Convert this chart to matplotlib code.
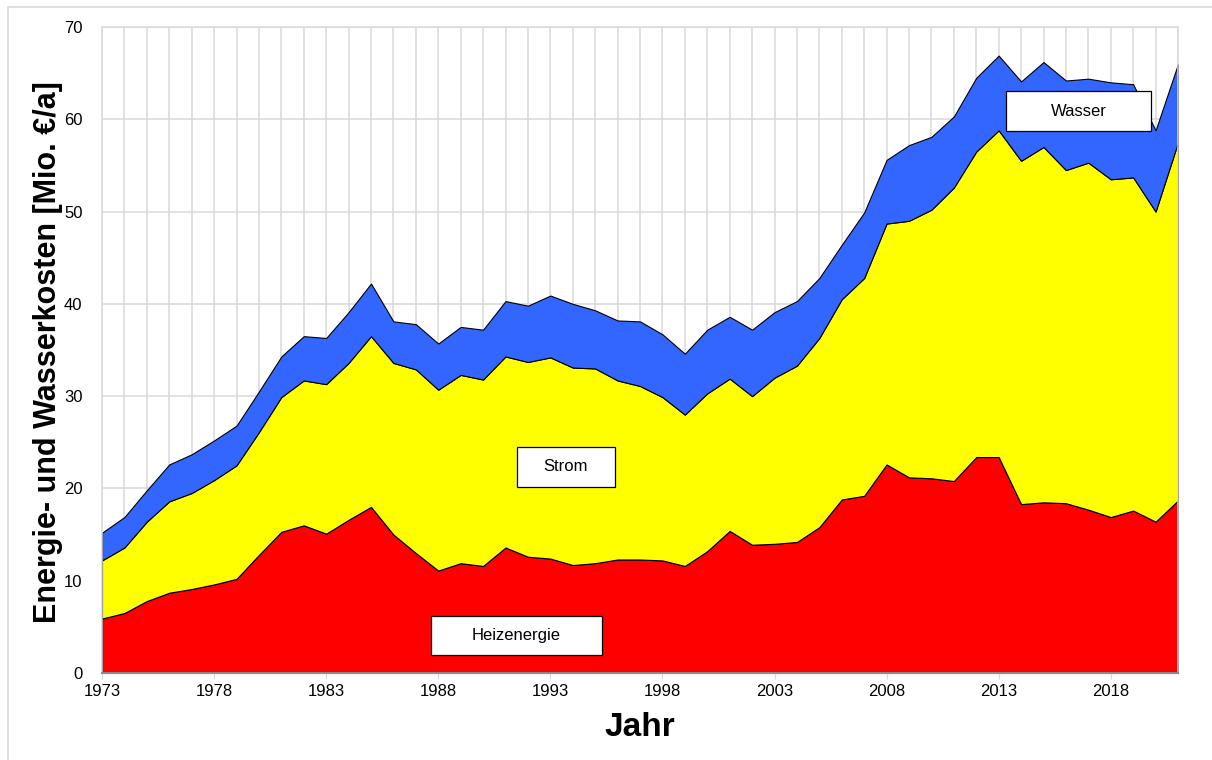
import matplotlib
matplotlib.use('Agg')
import matplotlib.pyplot as plt
import matplotlib.patches as patches
import matplotlib.ticker as ticker

plt.rcParams['font.family'] = ['Liberation Sans', 'DejaVu Sans']

# Daten (Mio. EUR pro Jahr)
jahre = list(range(1973, 2022))
heizenergie = [5.9, 6.5, 7.8, 8.7, 9.1, 9.6, 10.2, 12.8, 15.3, 16.0,
               15.1, 16.6, 18.0, 15.0, 13.0, 11.1, 11.9, 11.6, 13.6, 12.6,
               12.4, 11.7, 11.9, 12.3, 12.3, 12.2, 11.6, 13.2, 15.4, 13.9,
               14.0, 14.2, 15.8, 18.8, 19.2, 22.6, 21.2, 21.1, 20.8, 23.4,
               23.4, 18.3, 18.5, 18.4, 17.7, 16.9, 17.6, 16.4, 18.7]
strom = [6.3, 7.1, 8.6, 9.9, 10.4, 11.3, 12.3, 13.3, 14.6, 15.7,
         16.2, 17.0, 18.5, 18.6, 19.9, 19.6, 20.4, 20.2, 20.7, 21.1,
         21.8, 21.4, 21.1, 19.4, 18.8, 17.7, 16.4, 17.1, 16.5, 16.1,
         18.0, 19.1, 20.5, 21.7, 23.6, 26.1, 27.8, 29.1, 31.8, 33.1,
         35.4, 37.2, 38.5, 36.1, 37.6, 36.6, 36.1, 33.6, 38.8]
wasser = [3.0, 3.3, 3.4, 4.0, 4.2, 4.3, 4.3, 4.4, 4.4, 4.8,
          5.0, 5.5, 5.7, 4.5, 4.9, 5.0, 5.2, 5.4, 6.0, 6.1,
          6.7, 6.9, 6.3, 6.5, 7.0, 6.8, 6.6, 6.9, 6.7, 7.2,
          7.1, 7.0, 6.5, 5.9, 7.1, 6.9, 8.2, 7.9, 7.7, 8.0,
          8.1, 8.6, 9.2, 9.7, 9.1, 10.5, 10.1, 8.8, 8.5]

farben = ['#ff0000', '#ffff00', '#3366ff']
W, H = 1212, 760

fig = plt.figure(figsize=(W / 100, H / 100), dpi=100)
# heller Rahmen um die Grafik (nur links/oben sichtbar)
fig.add_artist(patches.Rectangle((8 / W, -0.1), 1.2, 1.1 - 7 / H + 0.0,
                                 transform=fig.transFigure, fill=False,
                                 edgecolor='#d9d9d9', linewidth=1.2))

ax = fig.add_axes([102 / W, 87 / H, 1076 / W, 646 / H])
ax.stackplot(jahre, heizenergie, strom, wasser, colors=farben,
             edgecolor='black', linewidth=0.8, zorder=2)

ax.set_xlim(1973, 2021)
ax.set_ylim(0, 70)
ax.xaxis.set_major_locator(ticker.FixedLocator(range(1973, 2021, 5)))
ax.xaxis.set_minor_locator(ticker.MultipleLocator(1))
ax.yaxis.set_major_locator(ticker.MultipleLocator(10))
ax.grid(which='both', axis='x', color='#d9d9d9', linewidth=1.1, zorder=0)
ax.grid(which='major', axis='y', color='#d9d9d9', linewidth=1.1, zorder=0)
ax.set_axisbelow(True)

ax.tick_params(axis='x', which='major', length=4, color='#d9d9d9',
               labelsize=12, pad=4)
ax.tick_params(axis='x', which='minor', length=0)
ax.tick_params(axis='y', length=0, labelsize=12, pad=14)

for s in ['top', 'right', 'left']:
    ax.spines[s].set_color('#d9d9d9')
    ax.spines[s].set_linewidth(1.1)
ax.spines['bottom'].set_color('#888888')
ax.spines['bottom'].set_linewidth(1.5)
ax.spines['bottom'].set_zorder(3)

fig.text(48 / W, 1 - 352 / H, 'Energie- und Wasserkosten [Mio. €/a]',
         rotation=90, ha='center', va='center', fontsize=22, weight='bold',
         family=['Liberation Sans Narrow', 'Liberation Sans'])
fig.text(640 / W, 1 - 728 / H, 'Jahr', ha='center', va='center',
         fontsize=24, weight='bold',
         family=['Liberation Sans Narrow', 'Liberation Sans'])

# beschriftete Kästen (Achsenanteil)
kaesten = [('Heizenergie', 0.3058, 0.0279, 0.159, 0.0604),
           ('Strom', 0.3857, 0.288, 0.0911, 0.0619),
           ('Wasser', 0.840, 0.839, 0.135, 0.0619)]
for name, x0, y0, bw, bh in kaesten:
    ax.add_patch(patches.Rectangle((x0, y0), bw, bh, transform=ax.transAxes,
                                   facecolor='white', edgecolor='black',
                                   linewidth=0.9, zorder=5))
    ax.text(x0 + bw / 2, y0 + bh / 2, name, transform=ax.transAxes,
            ha='center', va='center', fontsize=12, zorder=6)

fig.savefig('out.png', dpi=100)
